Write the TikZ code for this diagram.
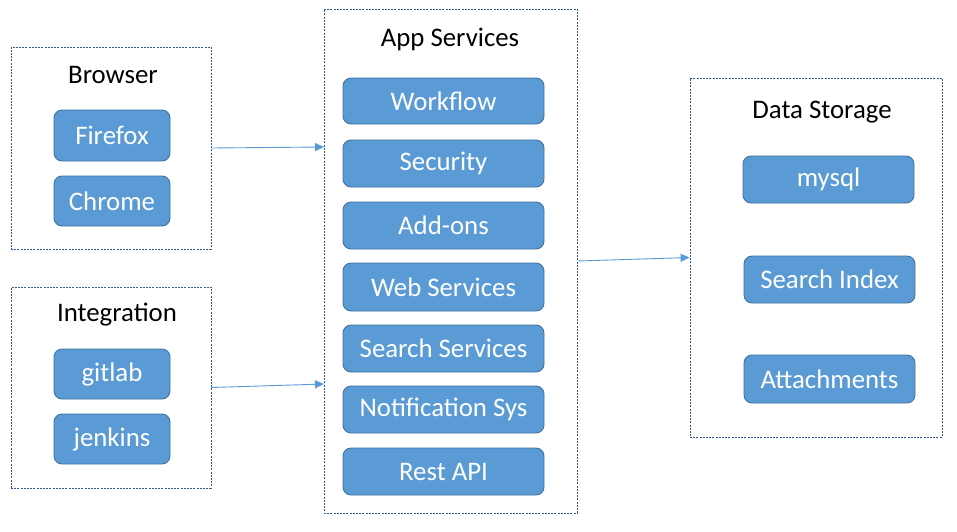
\documentclass[tikz,border=0pt]{standalone}
\usepackage{fontspec}
\setmainfont{Carlito}
\usetikzlibrary{arrows.meta}
\definecolor{boxfill}{HTML}{5B9BD5}
\definecolor{boxline}{HTML}{41719C}
\definecolor{contline}{HTML}{2E5E9A}
\definecolor{arrcol}{HTML}{5B9BD5}
\tikzset{
  container/.style={draw=contline, line width=0.8pt, dash pattern=on 2pt off 1.2pt, fill=white, inner sep=0pt},
  item/.style={draw=boxline, line width=0.9pt, fill=boxfill, rounded corners=8pt, text=white, font=\fontsize{26.8}{30}\selectfont, inner sep=0pt},
  title/.style={font=\fontsize{26.8}{30}\selectfont, text=black, inner sep=0pt},
  arr/.style={draw=arrcol, line width=0.9pt, -{Triangle[length=9pt,width=8pt]}}
}
\begin{document}
\begin{tikzpicture}[x=1pt,y=-1pt]
\useasboundingbox[fill=white] (0,0) rectangle (957,531);
% containers
\node[container, minimum width=200pt, minimum height=202pt] (browser) at (111,148) {};
\node[container, minimum width=200pt, minimum height=201pt] (integ) at (111,387.5) {};
\node[container, minimum width=253pt, minimum height=504pt] (app) at (450.5,261) {};
\node[container, minimum width=252pt, minimum height=359pt] (data) at (816,257.5) {};
% titles
\node[title] (tbrowser) at (113,75) {Browser};
\node[title] (tinteg) at (117,315) {Integration};
\node[title] (tapp) at (450,39) {App Services};
\node[title] (tdata) at (822,112) {Data Storage};
% browser items
\node[item, minimum width=116pt, minimum height=51pt] (firefox) at (112,135.5) {Firefox};
\node[item, minimum width=116pt, minimum height=50pt] (chrome) at (112,201) {Chrome};
% integration items
\node[item, minimum width=116pt, minimum height=50pt] (gitlab) at (112,374) {gitlab};
\node[item, minimum width=116pt, minimum height=50pt] (jenkins) at (112,439) {jenkins};
% app items
\node[item, minimum width=201pt, minimum height=46pt] (workflow) at (443.5,101) {Workflow};
\node[item, minimum width=201pt, minimum height=47pt] (security) at (443.5,163.5) {Security};
\node[item, minimum width=201pt, minimum height=47pt] (addons) at (443.5,225.5) {Add-ons};
\node[item, minimum width=201pt, minimum height=48pt] (websvc) at (443.5,287) {Web Services};
\node[item, minimum width=201pt, minimum height=47pt] (searchsvc) at (443.5,348.5) {Search Services};
\node[item, minimum width=201pt, minimum height=47pt] (notif) at (443.5,409.5) {Notification Sys};
\node[item, minimum width=201pt, minimum height=47pt] (rest) at (443.5,471.5) {Rest API};
% data items
\node[item, minimum width=171pt, minimum height=47pt] (mysql) at (828.5,179.5) {mysql};
\node[item, minimum width=171pt, minimum height=47pt] (sindex) at (829.5,279.5) {Search Index};
\node[item, minimum width=171pt, minimum height=48pt] (attach) at (829.5,379) {Attachments};
% arrows
\coordinate (a1) at (324,147);
\coordinate (a2) at (324,384);
\draw[arr] (browser.east) -- (a1);
\draw[arr] (integ.east) -- (a2);
\draw[arr] (app.east) -- (data.west);
\end{tikzpicture}
\end{document}
